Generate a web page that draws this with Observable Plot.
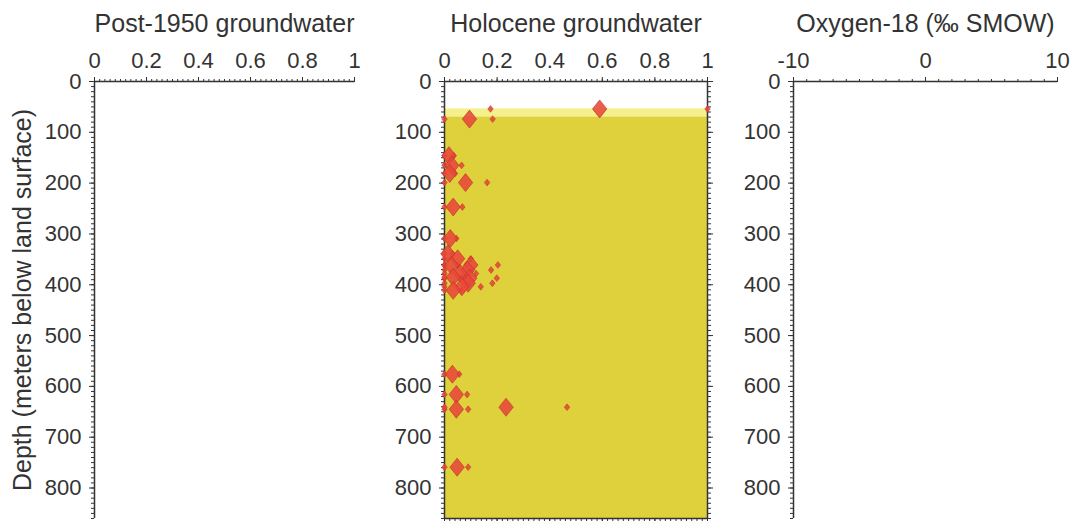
<!DOCTYPE html>
<html><head><meta charset="utf-8">
<script src="https://cdn.jsdelivr.net/npm/d3@7"></script>
<script src="https://cdn.jsdelivr.net/npm/@observablehq/plot@0.6"></script>
<style>
body{margin:0;background:#fff;}
#wrap{position:relative;width:1075px;height:521px;overflow:hidden;background:#fff;}
#wrap svg{position:absolute;top:0;}
</style></head><body><div id="wrap"></div>
<script>
// ---- data ----
const depthDomain = [0, 860];
const depthTicks = [0, 100, 200, 300, 400, 500, 600, 700, 800];
const fractionTicks = [0, 0.2, 0.4, 0.6, 0.8, 1];
const o18Domain = [-10, 10];
const o18Ticks = [-10, 0, 10];
const panelTitles = ["Post-1950 groundwater", "Holocene groundwater", "Oxygen-18 (‰ SMOW)"];
const yTitle = "Depth (meters below land surface)";

// Holocene groundwater fraction: best estimate with lower / upper bounds
const sampleDepth   = [54, 74, 146, 165, 181, 199, 247, 309, 339, 349, 361, 362, 371, 378, 387, 385, 397, 404, 411, 576, 616, 645, 641, 759];
const holoceneBest  = [0.59, 0.095, 0.017, 0.028, 0.02, 0.08, 0.033, 0.022, 0.013, 0.05, 0.10, 0.026, 0.087, 0.06, 0.096, 0.033, 0.09, 0.066, 0.033, 0.03, 0.045, 0.045, 0.234, 0.048];
const holoceneLow   = [0.175, 0, 0, 0, 0, 0, 0, 0, 0, 0, 0, 0, 0, 0, 0, 0, 0, 0, 0, 0, 0, 0, 0, 0];
const holoceneHigh  = [1.0, 0.183, 0.035, 0.065, 0.04, 0.162, 0.068, 0.045, 0.03, 0.1, 0.203, 0.05, 0.177, 0.12, 0.199, 0.066, 0.182, 0.138, 0.066, 0.056, 0.086, 0.09, 0.466, 0.09];

// shaded depth zones in the Holocene panel
const bandTop    = [54, 70];
const bandBottom = [70, 860];
const bandKind   = ["upper", "main"];

// ---- build ----
const samples = sampleDepth.map((d, i) => ({depth: d, best: holoceneBest[i], low: holoceneLow[i], high: holoceneHigh[i]}));
const bands = bandTop.map((t, i) => ({top: t, bottom: bandBottom[i], kind: bandKind[i]}));

const diamond = {
  draw(ctx, size) {
    const h = Math.sqrt(size / Math.PI), w = h * 0.8;
    ctx.moveTo(0, -h); ctx.lineTo(w, 0); ctx.lineTo(0, h); ctx.lineTo(-w, 0); ctx.closePath();
  }
};

const INK = "#333";
const fmt = d => String(d);
const blank = () => "";
const wrap = document.getElementById("wrap");

function panel(cfg) {
  const minorY = d3.range(0, depthDomain[1] + 1, 10);
  const marks = [
    ...(cfg.under || []),
    // axis lines
    Plot.ruleY([depthDomain[0]], {stroke: INK, strokeWidth: 1.5}),
    Plot.ruleX([cfg.xDomain[0]], {stroke: INK, strokeWidth: 1.5}),
    // top axis
    Plot.axisX(cfg.minorX, {anchor: "top", tickSize: 3, tickFormat: blank, label: null, stroke: INK}),
    Plot.axisX(cfg.majorX, {anchor: "top", tickSize: 5, tickPadding: 9, tickFormat: fmt, label: null, stroke: INK, fill: INK, fontSize: 22}),
    // left axis
    Plot.axisY(minorY, {anchor: "left", tickSize: 3, tickFormat: blank, label: null, stroke: INK}),
    Plot.axisY(depthTicks, {anchor: "left", tickSize: 5, tickPadding: 8, tickFormat: fmt, label: null, stroke: INK, fill: INK, fontSize: 22}),
    ...(cfg.over || []),
    Plot.text([cfg.title], {frameAnchor: "top", dy: -50, lineAnchor: "bottom", fontSize: 25, fill: INK})
  ];
  if (cfg.yTitle) marks.push(Plot.text([cfg.yTitle], {frameAnchor: "left", textAnchor: "middle", rotate: -90, dx: -72, fontSize: 25, fill: INK}));
  const svg = Plot.plot({
    width: cfg.width, height: 521,
    marginTop: 81, marginBottom: 3, marginLeft: cfg.mL, marginRight: cfg.mR,
    x: {domain: cfg.xDomain},
    y: {domain: depthDomain, reverse: true},
    style: {fontFamily: '"Liberation Sans", Arial, sans-serif', fontSize: "22px", color: INK, background: "transparent", overflow: "visible"},
    marks
  });
  svg.style.left = cfg.left + "px";
  wrap.append(svg);
}

const minorFrac = d3.range(0, 51).map(i => i / 50);

panel({left: 0, width: 380, mL: 94, mR: 26, xDomain: [0, 1], majorX: fractionTicks, minorX: minorFrac,
  title: panelTitles[0], yTitle});

panel({left: 360, width: 380, mL: 84, mR: 33, xDomain: [0, 1], majorX: fractionTicks, minorX: minorFrac,
  title: panelTitles[1],
  under: [
    Plot.rect(bands, {x1: 0, x2: 1, y1: "top", y2: "bottom", fill: d => d.kind === "upper" ? "#f4f08c" : "#dfd13c"})
  ],
  over: [
    Plot.ruleX([1], {stroke: INK, strokeWidth: 1.5}),
    Plot.ruleY([depthDomain[1]], {stroke: INK, strokeWidth: 1.5}),
    Plot.axisY(d3.range(0, depthDomain[1] + 1, 10), {anchor: "right", tickSize: 3, tickFormat: blank, label: null, stroke: INK}),
    Plot.axisY(depthTicks, {anchor: "right", tickSize: 5, tickFormat: blank, label: null, stroke: INK}),
    Plot.axisX(minorFrac, {anchor: "bottom", tickSize: 3, tickFormat: blank, label: null, stroke: INK}),
    Plot.axisX(fractionTicks, {anchor: "bottom", tickSize: 5, tickFormat: blank, label: null, stroke: INK}),
    Plot.dot(samples, {x: "low", y: "depth", r: 3.4, symbol: diamond, fill: "#e8473b", fillOpacity: 0.9, stroke: "#b8302a", strokeWidth: 0.5}),
    Plot.dot(samples, {x: "high", y: "depth", r: 3.4, symbol: diamond, fill: "#e8473b", fillOpacity: 0.9, stroke: "#b8302a", strokeWidth: 0.5}),
    Plot.dot(samples, {x: "best", y: "depth", r: 9, symbol: diamond, fill: "#e8473b", fillOpacity: 0.88, stroke: "#b8302a", strokeWidth: 0.6})
  ]});

panel({left: 710, width: 365, mL: 83, mR: 18, xDomain: o18Domain, majorX: o18Ticks, minorX: d3.range(-10, 11),
  title: panelTitles[2]});
</script>
</body></html>
